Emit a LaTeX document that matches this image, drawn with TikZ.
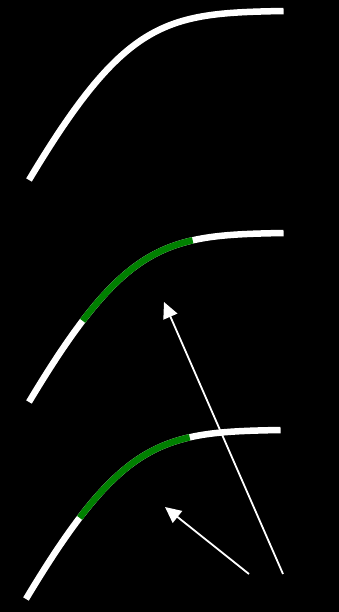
\documentclass[tikz,border=0pt]{standalone}
\usepackage{tikz}
\usepackage{xcolor}
\usetikzlibrary{arrows.meta}
\definecolor{cBack}{HTML}{000000}
\definecolor{cInk}{HTML}{FFFFFF}
\definecolor{cMark}{HTML}{008000}

\begin{document}
\begin{tikzpicture}[
  x=1pt, y=-1pt,
  >={Triangle[length=16pt, width=15pt]},
  declare function={
    bx(\t)=(1-\t)^3*29+3*(1-\t)^2*\t*126+3*(1-\t)*\t^2*166+\t^3*284;
    by(\t)=(1-\t)^3*180+3*(1-\t)^2*\t*18+3*(1-\t)*\t^2*13+\t^3*11;},
  curve/.style={draw=cInk, line width=6.5pt, domain=0:1, samples=120, variable=\t},
  mark seg/.style={curve, draw=cMark, domain=0.205:0.69},
  ptr/.style={->, draw=cInk, line width=1.8pt}]

% ---------- canvas ----------
\fill[cBack] (0,0) rectangle (339,612);
\useasboundingbox (0,0) rectangle (339,612);

% ---------- top curve ----------
\draw[curve] plot ({bx(\t)},{by(\t)});

% ---------- middle curve ----------
\begin{scope}[shift={(0,222)}]
  \draw[curve] plot ({bx(\t)},{by(\t)});
  \draw[mark seg] plot ({bx(\t)},{by(\t)});
\end{scope}

% ---------- bottom curve ----------
\begin{scope}[shift={(-3,419)}]
  \draw[curve] plot ({bx(\t)},{by(\t)});
  \draw[mark seg] plot ({bx(\t)},{by(\t)});
\end{scope}

% ---------- pointers ----------
\coordinate (tailA) at (283,574);
\coordinate (tipA) at (164,302);
\coordinate (tailB) at (249,574);
\coordinate (tipB) at (165,507);
\draw[ptr] (tailA) -- (tipA);
\draw[ptr] (tailB) -- (tipB);
\end{tikzpicture}
\end{document}
